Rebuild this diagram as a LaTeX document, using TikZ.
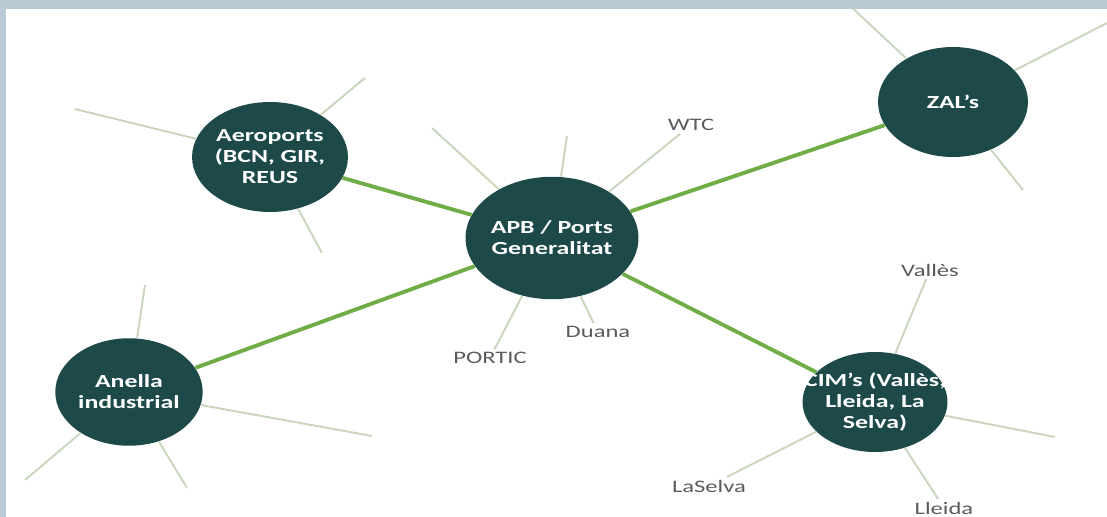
\documentclass[tikz,border=0pt]{standalone}
\usepackage{fontspec}
\usetikzlibrary{shapes.geometric}
\newfontfamily\hubfont[FakeStretch=1.4]{Carlito}
\definecolor{hubteal}{RGB}{29,73,73}
\definecolor{linkgreen}{RGB}{112,173,71}
\definecolor{spokegray}{RGB}{201,214,189}
\definecolor{framegray}{RGB}{184,202,212}
\definecolor{labelgray}{RGB}{88,92,92}

\begin{document}
\begin{tikzpicture}[x=0.02cm, y=-0.02cm,
  hub/.style = {ellipse, fill=hubteal, draw=none, inner sep=0pt, align=center,
                text=white, font=\hubfont\bfseries\fontsize{10.5}{12}\selectfont,
                minimum width=2.9cm, minimum height=2.2cm},
  tag/.style = {inner sep=1.5pt, text=labelgray, font=\hubfont\fontsize{10}{12}\selectfont},
  link/.style = {draw=linkgreen, line width=2.2pt},
  spoke/.style = {draw=spokegray, line width=1.1pt}]
  \useasboundingbox (0,0) rectangle (1107,517);

  \node[hub] (aero) at (270,157) {Aeroports\\(BCN, GIR,\\REUS};
  \node[hub, minimum width=2.8cm, minimum height=2.45cm] (apb) at (552,238) {APB / Ports\\Generalitat};
  \node[hub, minimum width=3cm] (zal) at (953,102) {ZAL’s};
  \node[hub, inner xsep=-13pt, inner ysep=-2pt, minimum height=2cm] (cim) at (875,402) {CIM’s (Vallès,\\Lleida, La\\Selva)};
  \node[hub, minimum width=2.95cm, minimum height=2.15cm] (anella) at (129,392) {Anella\\industrial};

  \node[tag] (wtc) at (691,125) {WTC};
  \node[tag] (portic) at (490,358) {PORTIC};
  \node[tag] (duana) at (598,332) {Duana};
  \node[tag] (valles) at (930,270) {Vallès};
  \node[tag] (selva) at (709,486) {LaSelva};
  \node[tag] (lleida) at (944,508) {Lleida};

  \coordinate (aeroW) at (75,109);
  \coordinate (aeroNE) at (365,78);
  \coordinate (aeroS) at (322,253);
  \coordinate (apbNW) at (432,128);
  \coordinate (apbN) at (567,136);
  \coordinate (zalNW) at (848,4);
  \coordinate (zalNE) at (1107,23);
  \coordinate (zalS) at (1023,190);
  \coordinate (cimE) at (1055,437);
  \coordinate (anellaN) at (145,285);
  \coordinate (anellaE) at (372,436);
  \coordinate (anellaSW) at (25,480);
  \coordinate (anellaS) at (187,488);

  \draw[spoke] (aero)--(aeroW);
  \draw[spoke] (aero)--(aeroNE);
  \draw[spoke] (aero)--(aeroS);
  \draw[spoke] (apb)--(apbNW);
  \draw[spoke] (apb)--(apbN);
  \draw[spoke] (apb)--(wtc);
  \draw[spoke] (apb)--(portic);
  \draw[spoke] (apb)--(duana);
  \draw[spoke] (zal)--(zalNW);
  \draw[spoke] (zal)--(zalNE);
  \draw[spoke] (zal)--(zalS);
  \draw[spoke] (cim)--(valles);
  \draw[spoke] (cim)--(cimE);
  \draw[spoke] (cim)--(selva);
  \draw[spoke] (cim)--(lleida);
  \draw[spoke] (anella)--(anellaN);
  \draw[spoke] (anella)--(anellaE);
  \draw[spoke] (anella)--(anellaSW);
  \draw[spoke] (anella)--(anellaS);

  \draw[link] (aero)--(apb);
  \draw[link] (apb)--(zal);
  \draw[link] (apb)--(anella);
  \draw[link] (apb)--(cim);

  % frame bands
  \fill[framegray] (0,0) rectangle (1107,9);
  \fill[framegray] (0,0) rectangle (6,517);
\end{tikzpicture}
\end{document}
